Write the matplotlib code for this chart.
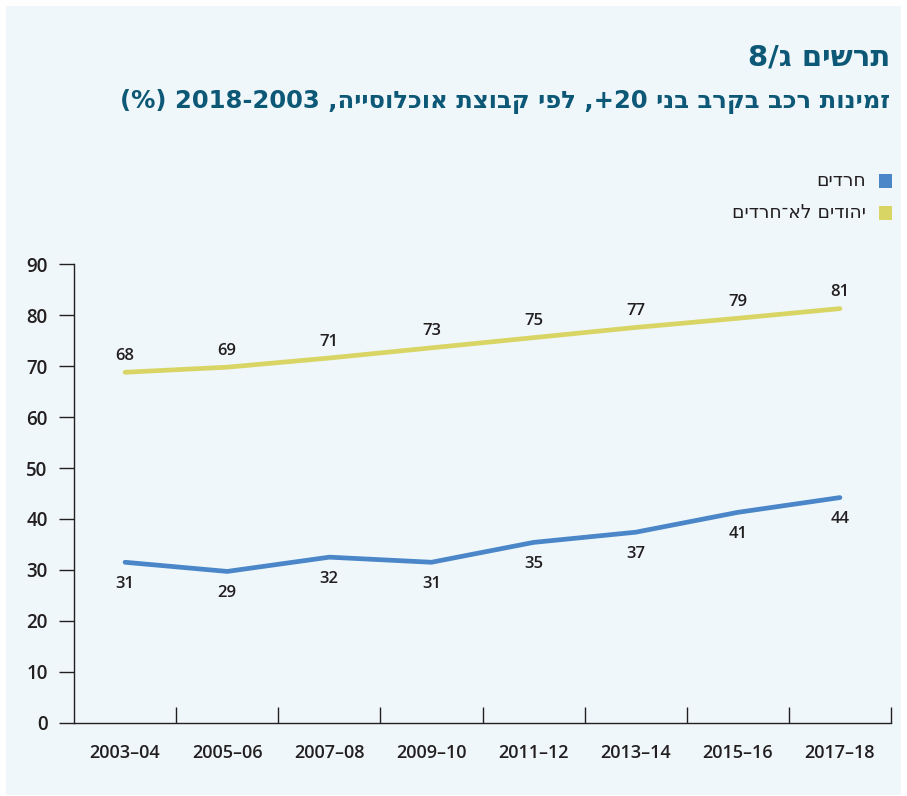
import matplotlib
matplotlib.use("Agg")
import matplotlib.pyplot as plt
from matplotlib.patches import Rectangle

plt.rcParams['font.family'] = ['DejaVu Sans']

# ---- data ----
periods = ["2003–04", "2005–06", "2007–08", "2009–10", "2011–12", "2013–14", "2015–16", "2017–18"]
haredi = [31.5, 29.7, 32.5, 31.5, 35.4, 37.4, 41.3, 44.2]
haredi_labels = [31, 29, 32, 31, 35, 37, 41, 44]
nonharedi = [68.8, 69.8, 71.6, 73.6, 75.6, 77.6, 79.4, 81.3]
nonharedi_labels = [68, 69, 71, 73, 75, 77, 79, 81]
yticks = [0, 10, 20, 30, 40, 50, 60, 70, 80, 90]

def rtl(s):
    return s[::-1]

title = "8/ג " + rtl("תרשים")
subtitle = " ".join(["(%)", "2018-2003", rtl("אוכלוסייה,"), rtl("קבוצת"), rtl("לפי"),
                     ",+20", rtl("בני"), rtl("בקרב"), rtl("רכב"), rtl("זמינות")])
leg_haredi = rtl("חרדים")
leg_nonharedi = rtl("יהודים לא־חרדים")

BLUE = "#4a86c8"
YELLOW = "#d9d565"
TEAL = "#0d5877"
TXT = "#231f20"
BG = "#eff7fa"
NUMFONT = ['Open Sans', 'DejaVu Sans']

W, H = 907, 796
fig = plt.figure(figsize=(W / 100, H / 100), dpi=100, facecolor="white")
bg = Rectangle((6 / W, 1 / H), (901 - 6) / W, (790 - 1) / H,
               transform=fig.transFigure, facecolor=BG, edgecolor="none", zorder=-10)
fig.patches.append(bg)

ax = fig.add_axes([74 / W, (796 - 722.7) / H, (891 - 74) / W, 458.4 / H])
ax.set_zorder(5)
ax.set_facecolor("none")
x = list(range(len(periods)))

ax.plot(x, nonharedi, color=YELLOW, lw=3.4, solid_capstyle="round", zorder=3)
ax.plot(x, haredi, color=BLUE, lw=3.4, solid_capstyle="round", zorder=3)

for xi, v, lab in zip(x, nonharedi, nonharedi_labels):
    ax.annotate(str(lab), (xi, v), xytext=(0, 6), textcoords="offset points",
                ha="center", va="bottom", fontsize=12, color=TXT,
                family=NUMFONT, fontweight="semibold")
for xi, v, lab in zip(x, haredi, haredi_labels):
    ax.annotate(str(lab), (xi, v), xytext=(0, -10), textcoords="offset points",
                ha="center", va="top", fontsize=12, color=TXT,
                family=NUMFONT, fontweight="semibold")

ax.set_xlim(-0.5, len(periods) - 0.5)
ax.set_ylim(0, 90)
ax.set_yticks(yticks)
ax.set_yticklabels([str(t) for t in yticks], fontsize=13.5, color=TXT,
                   family=NUMFONT, fontweight="semibold")
ax.set_xticks(x)
ax.set_xticklabels(periods, fontsize=13, color=TXT, family=NUMFONT, fontweight="semibold")
ax.set_xticks([i + 0.5 for i in x], minor=True)

ax.tick_params(axis="y", direction="out", length=11, width=1, color=TXT, pad=8)
ax.tick_params(axis="x", which="major", length=0, pad=15)
ax.tick_params(axis="x", which="minor", direction="in", length=11.5, width=1, color=TXT)

for s in ["top", "right"]:
    ax.spines[s].set_visible(False)
for s in ["left", "bottom"]:
    ax.spines[s].set_color(TXT)
    ax.spines[s].set_linewidth(1)

# titles
fig.text(890 / W, 1 - 57 / H, title, ha="right", va="center", fontsize=21,
         fontweight="bold", color=TEAL)
fig.text(890 / W, 1 - 102 / H, subtitle, ha="right", va="center", fontsize=17.5,
         fontweight="bold", color=TEAL)

# legend
for yy, col, lab in [(181, BLUE, leg_haredi), (213, YELLOW, leg_nonharedi)]:
    fig.patches.append(Rectangle((879 / W, 1 - (yy + 6.5) / H), 13 / W, 13 / H,
                                 transform=fig.transFigure, facecolor=col, edgecolor="none"))
    fig.text(866 / W, 1 - yy / H, lab, ha="right", va="center", fontsize=13.5, color=TXT)

fig.savefig("out.png", dpi=100, facecolor="white")
